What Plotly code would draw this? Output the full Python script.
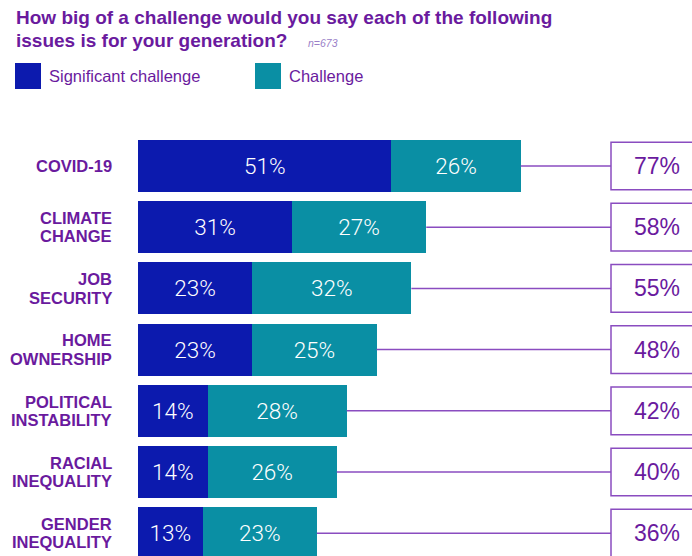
import plotly.graph_objects as go

# Survey data
issues = [["COVID-19"], ["CLIMATE", "CHANGE"], ["JOB", "SECURITY"], ["HOME", "OWNERSHIP"],
          ["POLITICAL", "INSTABILITY"], ["RACIAL", "INEQUALITY"], ["GENDER", "INEQUALITY"]]
significant = [51, 31, 23, 23, 14, 14, 13]
challenge = [26, 27, 32, 25, 28, 26, 23]
totals = [s + c for s, c in zip(significant, challenge)]
series_names = ["Significant challenge", "Challenge"]
sample_note = "n=673"
title_lines = ["How big of a challenge would you say each of the following",
               "issues is for your generation?"]

# Styling
W, H = 692, 556
DARK = "#0c1aae"
TEAL = "#0a8fa4"
PURPLE = "#6a1a9e"
LINE_PURPLE = "#8a4cc0"

# Axis calibration: x=0 sits at 138px, ~5px per percentage point;
# category i is centred at 166 + 61.2*i px from the top.
X0_PX, PX_PER_PCT = 138, 4.97
Y0_PX, ROW_PX = 166, 61.2
x_range = [-X0_PX / PX_PER_PCT, (W - X0_PX) / PX_PER_PCT]
y_range = [(H - Y0_PX) / ROW_PX, -Y0_PX / ROW_PX]

def px_to_x(px):
    return (px - X0_PX) / PX_PER_PCT

ypos = list(range(len(issues)))
value_font = dict(color="white", size=22.5, family="Roboto", weight=300)

fig = go.Figure()
fig.add_trace(go.Bar(
    x=significant, y=ypos, orientation="h", name=series_names[0],
    marker=dict(color=DARK, line=dict(width=0)), width=0.85,
    text=[f"{v}%" for v in significant], textposition="inside",
    insidetextanchor="middle", textfont=value_font, hoverinfo="skip",
))
fig.add_trace(go.Bar(
    x=challenge, y=ypos, orientation="h", name=series_names[1],
    marker=dict(color=TEAL, line=dict(width=0)), width=0.85,
    text=[f"{v}%" for v in challenge], textposition="inside",
    insidetextanchor="middle", textfont=value_font, hoverinfo="skip",
))

shapes = []
annotations = []

box_left = px_to_x(611)
box_right = px_to_x(705)
box_center = px_to_x(657)
line_gap = 9.2 / ROW_PX  # half the spacing between two label lines
for i, (label, tot) in enumerate(zip(issues, totals)):
    # connector from the bar end to the total box
    shapes.append(dict(type="line", xref="x", yref="y", x0=tot, x1=box_left,
                       y0=i, y1=i, line=dict(color=LINE_PURPLE, width=1.5)))
    shapes.append(dict(type="rect", xref="x", yref="y", x0=box_left, x1=box_right,
                       y0=i - 0.39, y1=i + 0.39, fillcolor="white",
                       line=dict(color=LINE_PURPLE, width=1.5)))
    annotations.append(dict(xref="x", yref="y", x=box_center, y=i, text=f"{tot}%",
                            showarrow=False, xanchor="center", yanchor="middle",
                            font=dict(size=23, color=PURPLE, family="Liberation Sans")))
    offsets = [0] if len(label) == 1 else [-line_gap, line_gap]
    for part, off in zip(label, offsets):
        annotations.append(dict(xref="x", yref="y", x=px_to_x(114), y=i + off,
                                text=f"<b>{part}</b>", showarrow=False,
                                xanchor="right", yanchor="middle",
                                font=dict(size=16.5, color=PURPLE, family="Liberation Sans")))

def py(p):
    return 1 - p / H

def pxp(p):
    return p / W

# Title
for line, ypx in zip(title_lines, [17, 41]):
    annotations.append(dict(xref="paper", yref="paper", x=pxp(14), y=py(ypx),
                            text=f"<b>{line}</b>", showarrow=False,
                            xanchor="left", yanchor="middle",
                            font=dict(size=19, color=PURPLE, family="Liberation Sans")))
annotations.append(dict(xref="paper", yref="paper", x=pxp(306), y=py(43),
                        text=f"<i>{sample_note}</i>", showarrow=False,
                        xanchor="left", yanchor="middle",
                        font=dict(size=10.5, color="#9a80c8", family="Liberation Sans")))

# Legend swatches and labels
for sx, color, name in [(15, DARK, series_names[0]), (255, TEAL, series_names[1])]:
    shapes.append(dict(type="rect", xref="paper", yref="paper",
                       x0=pxp(sx), x1=pxp(sx + 26), y0=py(89), y1=py(63),
                       fillcolor=color, line=dict(width=0)))
    annotations.append(dict(xref="paper", yref="paper", x=pxp(sx + 32), y=py(76),
                            text=name, showarrow=False, xanchor="left", yanchor="middle",
                            font=dict(size=16.5, color=PURPLE, family="Liberation Sans")))

fig.update_layout(
    width=W, height=H, margin=dict(l=0, r=0, t=0, b=0),
    barmode="stack", showlegend=False,
    paper_bgcolor="white", plot_bgcolor="white",
    xaxis=dict(range=x_range, visible=False, fixedrange=True),
    yaxis=dict(range=y_range, visible=False, fixedrange=True),
    shapes=shapes, annotations=annotations,
)

fig.write_html("out.html")
